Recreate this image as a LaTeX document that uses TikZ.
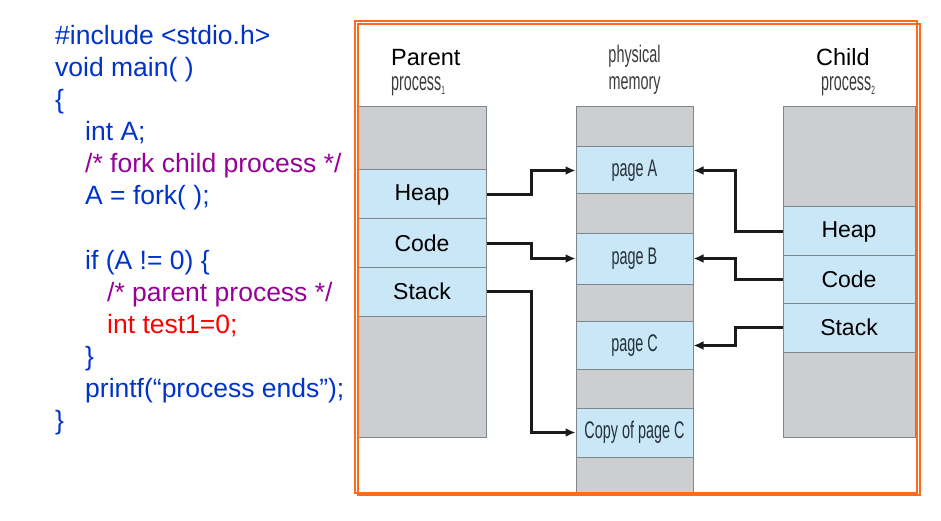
\documentclass[tikz,border=0pt]{standalone}
\usepackage{fontspec}
\setmainfont{Liberation Sans}
\usepackage{graphicx}
\usetikzlibrary{arrows.meta}
\definecolor{codeblue}{HTML}{0033CC}
\definecolor{codepurple}{HTML}{990099}
\definecolor{codered}{HTML}{FF0000}
\definecolor{seggray}{HTML}{CDCED2}
\definecolor{segblue}{HTML}{C9E7F7}
\definecolor{segline}{HTML}{7D878D}
\definecolor{memtext}{HTML}{263038}
\definecolor{hdrgray}{HTML}{3C3C3C}
\definecolor{arrowc}{HTML}{1A1A1A}
\definecolor{frameorange}{HTML}{FF6B1A}
\newcommand{\cnd}[1]{\scalebox{0.6}[1]{#1}}
\newcommand{\cnp}[1]{\scalebox{0.55}[1]{#1}}
\begin{document}
\begin{tikzpicture}[x=1pt,y=-1pt,
  code/.style={anchor=base west, inner sep=0pt, font=\fontsize{26.5}{26.5}\selectfont},
  seg/.style={draw=segline, line width=1pt, inner sep=0pt, anchor=center, font=\fontsize{23}{23}\selectfont},
  gseg/.style={seg, fill=seggray},
  bseg/.style={seg, fill=segblue},
  mseg/.style={bseg, text=memtext, font=\fontsize{24}{24}\selectfont},
  hdr/.style={anchor=base west, inner sep=0pt, font=\fontsize{23.5}{23.5}\selectfont},
  sub/.style={anchor=base west, inner sep=0pt, text=hdrgray, font=\fontsize{26}{26}\selectfont},
  memhdr/.style={anchor=base, inner sep=0pt, text=hdrgray, font=\fontsize{24}{24}\selectfont},
  conn/.style={line width=2.6pt, draw=arrowc, -{Latex[length=10pt,width=9pt]}},
  frame/.style={draw=frameorange, line width=2pt}]
\useasboundingbox (0,0) rectangle (941,521);

% code
\node[code, text=codeblue] (l1) at (55,45) {\#include <stdio.h>};
\node[code, text=codeblue] (l2) at (55,77) {void main( )};
\node[code, text=codeblue] (l3) at (55,109) {\{};
\node[code, text=codeblue] (l4) at (85,141) {int A;};
\node[code, text=codepurple] (l5) at (85,173) {/* fork child process */};
\node[code, text=codeblue] (l6) at (85,205) {A = fork( );};
\node[code, text=codeblue] (l7) at (85,269) {if (A != 0) \{};
\node[code, text=codepurple] (l8) at (107,301) {/* parent process */};
\node[code, text=codered] (l9) at (107,333) {int test1=0;};
\node[code, text=codeblue] (l10) at (85,365) {\}};
\node[code, text=codeblue] (l11) at (85,397) {printf(“process ends”);};
\node[code, text=codeblue] (l12) at (55,429) {\}};

% headers
\node[hdr] (parent) at (391,66) {Parent};
\node[sub] (pproc) at (391,91) {\cnp{process\raisebox{-4pt}{\fontsize{12}{12}\selectfont 1}}};
\node[memhdr] (phys) at (634.5,63) {\cnd{physical}};
\node[memhdr] (mem) at (634.5,90) {\cnd{memory}};
\node[hdr] (child) at (816,66) {Child};
\node[sub] (cproc) at (821,91) {\cnp{process\raisebox{-4pt}{\fontsize{12}{12}\selectfont 2}}};

% parent column
\node[gseg, minimum width=128pt, minimum height=63pt] (pg1) at (422,138.5) {};
\node[bseg, minimum width=128pt, minimum height=49pt] (pheap) at (422,194.5) {Heap};
\node[bseg, minimum width=128pt, minimum height=49pt] (pcode) at (422,243.5) {Code};
\node[bseg, minimum width=128pt, minimum height=49pt] (pstack) at (422,291.5) {Stack};
\node[gseg, minimum width=128pt, minimum height=121pt] (pg2) at (422,376.5) {};

% memory column
\node[gseg, minimum width=117pt, minimum height=40pt] (mg1) at (634.5,127) {};
\node[mseg, minimum width=117pt, minimum height=47pt] (pa) at (634.5,170.5) {\cnd{page A}};
\node[gseg, minimum width=117pt, minimum height=39pt] (mg2) at (634.5,213.5) {};
\node[mseg, minimum width=117pt, minimum height=51pt] (pb) at (634.5,258.5) {\cnd{page B}};
\node[gseg, minimum width=117pt, minimum height=37pt] (mg3) at (634.5,302.5) {};
\node[mseg, minimum width=117pt, minimum height=49pt] (pc) at (634.5,345.5) {\cnd{page C}};
\node[gseg, minimum width=117pt, minimum height=39pt] (mg4) at (634.5,388.5) {};
\node[mseg, minimum width=117pt, minimum height=49pt] (cpc) at (634.5,432.5) {\cnd{Copy of page C}};
\node[gseg, minimum width=117pt, minimum height=36pt] (mg5) at (634.5,475) {};

% child column
\node[gseg, minimum width=132pt, minimum height=100pt] (cg1) at (849,157) {};
\node[bseg, minimum width=132pt, minimum height=49pt] (cheap) at (849,231.5) {Heap};
\node[bseg, minimum width=132pt, minimum height=49pt] (ccode) at (849,279.5) {Code};
\node[bseg, minimum width=132pt, minimum height=49pt] (cstack) at (849,327.5) {Stack};
\node[gseg, minimum width=132pt, minimum height=85pt] (cg2) at (849,394.5) {};

% connectors
\draw[conn] (pheap.east) -- ++(45,0) |- (pa.west);
\draw[conn] (pcode.east) -- ++(45,0) |- (pb.west);
\draw[conn] (pstack.east) -- ++(45,0) |- (cpc.west);
\draw[conn] (cheap.west) -- ++(-47,0) |- (pa.east);
\draw[conn] (ccode.west) -- ++(-47,0) |- (pb.east);
\draw[conn] (cstack.west) -- ++(-47,0) |- (pc.east);

% frame
\draw[frame] (355,21.5) rectangle (917,492.5);
\draw[frame] (357.5,24) rectangle (919.5,495);
\end{tikzpicture}
\end{document}
